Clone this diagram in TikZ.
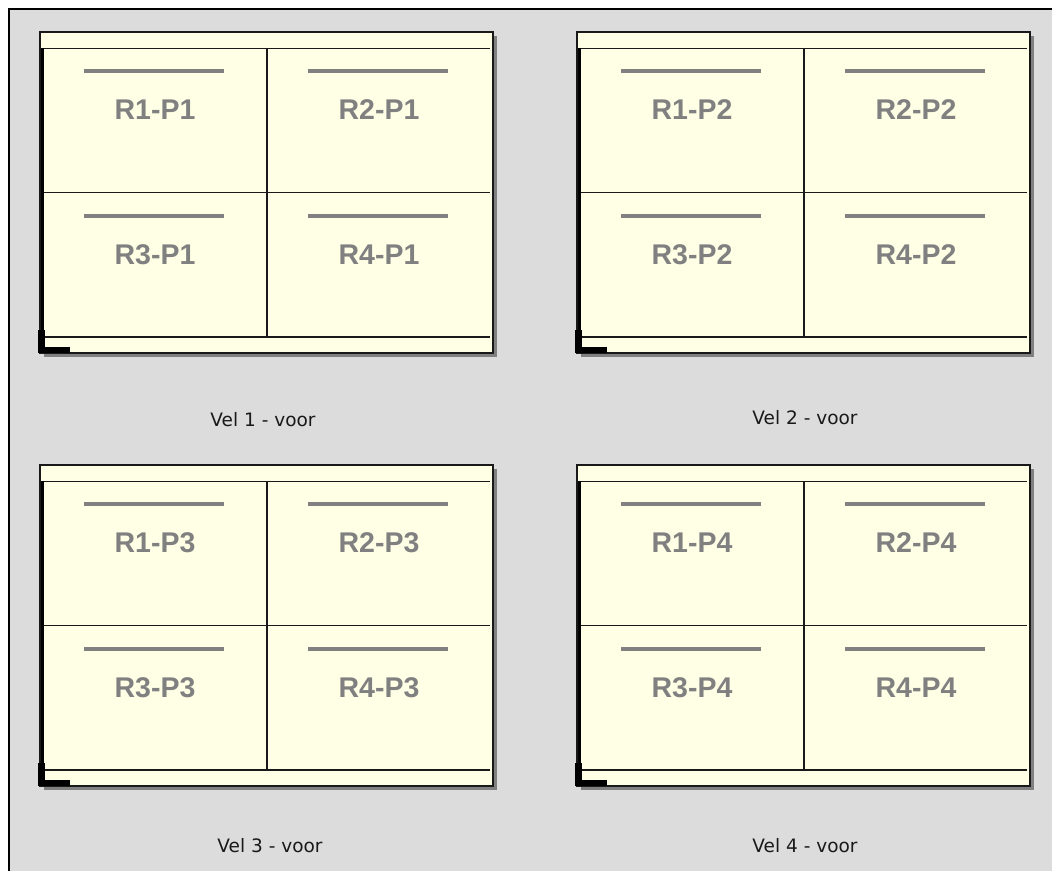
\documentclass[tikz,border=0pt]{standalone}
\usepackage{fontspec}
\setmainfont{Liberation Sans}
\newfontfamily\velfont{DejaVu Sans}
\definecolor{bgray}{HTML}{DCDCDC}
\definecolor{paper}{HTML}{FFFFE6}
\definecolor{shadowgray}{HTML}{808080}
\definecolor{labelgray}{HTML}{808080}
\tikzset{
  sheetline/.style={draw=black!90, line width=1.8pt},
  cellbar/.style={draw=labelgray, line width=4pt},
  celltext/.style={text=labelgray, font=\bfseries\fontsize{28.5}{32}\selectfont, inner sep=0pt},
  veltext/.style={text=black!90, font=\velfont\fontsize{18.5}{22}\selectfont, inner sep=0pt},
}
\begin{document}
\begin{tikzpicture}[x=1pt,y=-1pt]
\fill[white] (0,0) rectangle (1052,871);
\useasboundingbox (0,0) rectangle (1052,871);
\fill[bgray] (10,10) rectangle (1052,871);
\draw[line width=2pt] (9,871) -- (9,9) -- (1052,9);

\foreach \sx/\sy/\n in {40/32/1, 577/32/2, 40/465/3, 577/465/4} {
  \begin{scope}[shift={(\sx,\sy)}]
    \fill[shadowgray] (4,4) rectangle (457,325);
    \filldraw[fill=paper, draw=black!90, line width=2pt] (0,0) rectangle (453,321);
    % inner frame lines
    \draw[sheetline] (2,16.5) -- (450,16.5);
    \draw[sheetline] (3,305) -- (450,305);
    \draw[sheetline] (227,16.5) -- (227,305);
    \draw[sheetline] (3,160.5) -- (450,160.5);
    \draw[line width=3.2pt] (2.6,16) -- (2.6,305);
    % corner mark
    \fill[black] (-2,298) rectangle (5,321);
    \fill[black] (-2,315) rectangle (30,321);
    % cells
    \draw[cellbar] (44,39) -- (184,39);
    \draw[cellbar] (268,39) -- (408,39);
    \draw[cellbar] (44,184) -- (184,184);
    \draw[cellbar] (268,184) -- (408,184);
    \node[celltext] (r1-\n) at (115,78) {R1-P\n};
    \node[celltext] (r2-\n) at (339,78) {R2-P\n};
    \node[celltext] (r3-\n) at (115,223) {R3-P\n};
    \node[celltext] (r4-\n) at (339,223) {R4-P\n};
  \end{scope}
}

\node[veltext] (vel1) at (263,420) {Vel 1 - voor};
\node[veltext] (vel2) at (805,418) {Vel 2 - voor};
\node[veltext] (vel3) at (270,846) {Vel 3 - voor};
\node[veltext] (vel4) at (805,846) {Vel 4 - voor};
\end{tikzpicture}
\end{document}
